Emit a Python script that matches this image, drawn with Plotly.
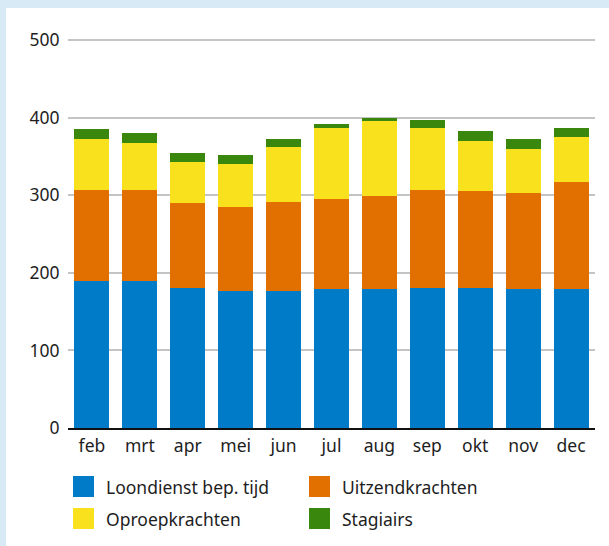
import plotly.graph_objects as go

months = ["feb", "mrt", "apr", "mei", "jun", "jul", "aug", "sep", "okt", "nov", "dec"]
series_names = ["Loondienst bep. tijd", "Uitzendkrachten", "Oproepkrachten", "Stagiairs"]
loondienst = [189, 189, 180, 177, 177, 179, 179, 180, 180, 179, 179]
uitzend = [118, 118, 110, 108, 114, 116, 120, 127, 125, 124, 138]
oproep = [65, 60, 53, 55, 71, 92, 97, 80, 65, 57, 58]
stagiairs = [13, 13, 11, 12, 10, 5, 4, 10, 13, 13, 12]
y_ticks = [0, 100, 200, 300, 400, 500]

colors = ["#007bc7", "#e17000", "#f9e11e", "#39870c"]
values = [loondienst, uitzend, oproep, stagiairs]

W, H = 609, 546
L, R, T, B = 68, 14, 39, 118
pw, ph = W - L - R, H - T - B
FONT = "Noto Sans"
TXT = "#1e1e1e"

def px(x):
    return (x - L) / pw

def py(y):
    return (H - B - y) / ph

fig = go.Figure()
for name, vals, c in zip(series_names, values, colors):
    fig.add_trace(go.Bar(x=months, y=vals, name=name, marker=dict(color=c, line=dict(width=0)),
                         showlegend=False))

shapes = [
    # white panel on light blue background
    dict(type="rect", xref="paper", yref="paper", x0=px(6), x1=px(W + 5), y0=py(8), y1=py(H + 5),
         fillcolor="white", line=dict(width=0), layer="below"),
]
annotations = []
# manual legend
legend_pos = [(73, 476), (309, 476), (73, 508), (309, 508)]
for (lx, ly), name, c in zip(legend_pos, series_names, colors):
    shapes.append(dict(type="rect", xref="paper", yref="paper", x0=px(lx), x1=px(lx + 21),
                       y0=py(ly), y1=py(ly + 21), fillcolor=c, line=dict(width=0)))
    annotations.append(dict(xref="paper", yref="paper", x=px(lx + 31), y=py(ly + 10.5),
                            text=name, showarrow=False, xanchor="left", yanchor="middle",
                            font=dict(family=FONT, size=17.5, color=TXT)))

fig.update_layout(
    width=W, height=H,
    margin=dict(l=L, r=R, t=T, b=B),
    barmode="stack", bargap=0.27,
    paper_bgcolor="#d9eaf7", plot_bgcolor="white",
    font=dict(family=FONT, size=17, color=TXT),
    shapes=shapes, annotations=annotations,
    xaxis=dict(showline=True, linecolor="#111111", linewidth=2, showgrid=False,
               ticks="outside", ticklen=1, tickcolor="rgba(0,0,0,0)",
               tickfont=dict(family=FONT, size=17.5, color=TXT)),
    yaxis=dict(range=[0, 501.3], tickvals=y_ticks, showgrid=True, gridcolor="#c4c4c4", gridwidth=1.5,
               zeroline=False, showline=False, ticks="outside", ticklen=4,
               tickcolor="rgba(0,0,0,0)",
               tickfont=dict(family=FONT, size=17.5, color=TXT)),
)

fig.write_html("out.html", config={"displayModeBar": False},
               post_script="document.body.style.margin='0';document.body.style.background='#d9eaf7';")
